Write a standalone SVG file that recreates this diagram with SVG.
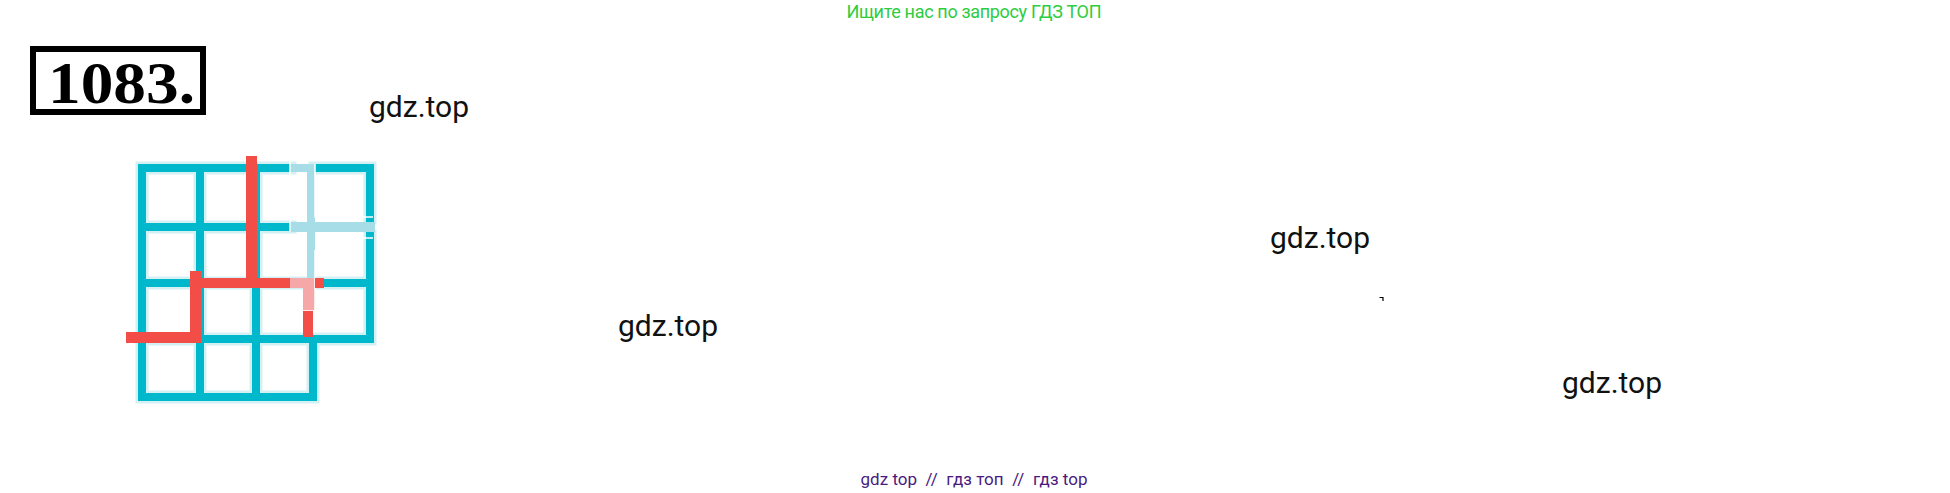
<svg xmlns="http://www.w3.org/2000/svg" width="1950" height="493" viewBox="0 0 1950 493">
<style>
.wm{font-family:Roboto,"Liberation Sans",sans-serif;font-size:30px;fill:#111}
.g{stroke:#00b8cc;stroke-width:8;stroke-linecap:square;fill:none}
.halo{stroke:#d3f0f4;stroke-width:13;stroke-linecap:square;fill:none}
.lt{stroke:#a6dde6;stroke-width:8;fill:none}
.r{fill:#f24d47}
.p{fill:#f6a8a8}
.wl{stroke:#fff;stroke-width:1.5;fill:none}
</style>
<rect width="1950" height="493" fill="#fff"/>
<text x="974" y="18" text-anchor="middle" font-family="Roboto,'Liberation Sans',sans-serif" font-size="18" fill="#2ecc40" textLength="255">Ищите нас по запросу ГДЗ ТОП</text>
<g id="title">
<rect x="33" y="49" width="170" height="63" fill="none" stroke="#000" stroke-width="6"/>
<text x="48" y="103" font-family="'Liberation Serif','DejaVu Serif',serif" font-weight="bold" font-size="60" fill="#000" textLength="147" lengthAdjust="spacingAndGlyphs">1083.</text>
</g>
<g id="watermarks">
<text class="wm" x="369" y="117">gdz.top</text>
<text class="wm" x="618" y="336">gdz.top</text>
<text class="wm" x="1270" y="248">gdz.top</text>
<text class="wm" x="1562" y="393">gdz.top</text>
<path d="M1379.5 297.5 H1383 V301" stroke="#000" stroke-width="1.2" fill="none"/>
</g>
<g id="grid">
<path class="halo" d="M142 168 H290 M315 168 H370 M142 227 H290 M142 283 H370 M142 339 H370 M142 397 H313 M142 168 V397 M200 168 V397 M256 168 V397 M313 339 V397 M370 168 V218 M370 236 V339"/>
<path class="g" d="M142 168 H290 M315 168 H370 M142 227 H290 M142 283 H370 M142 339 H370 M142 397 H313 M142 168 V397 M200 168 V397 M256 168 V397 M313 339 V397 M370 168 V218 M370 236 V339"/>
<path class="lt" d="M290 168 H315 M311 164 V283"/>
<rect x="290" y="222" width="85" height="10" fill="#a6dde6"/>
<path class="wl" d="M290 160 V232 M315 164 V217 H373 M315 238 H373"/>
</g>
<g id="path">
<rect class="r" x="246" y="156" width="11" height="132"/>
<rect class="r" x="190" y="278" width="100" height="10"/>
<rect class="p" x="290" y="278" width="25" height="10"/>
<rect class="p" x="303" y="283" width="12" height="28"/>
<path class="wl" d="M315 250 V311 H303"/>
<rect class="r" x="315" y="278" width="9" height="10"/>
<rect class="r" x="303" y="311" width="10" height="26"/>
<rect class="r" x="190" y="271" width="11" height="72"/>
<rect class="r" x="126" y="332" width="75" height="11"/>
</g>
<text x="974" y="485" text-anchor="middle" font-family="Roboto,'Liberation Sans',sans-serif" font-size="17" fill="#4a1a80" textLength="227" style="white-space:pre" xml:space="preserve">gdz top  //  гдз топ  //  гдз top</text>
</svg>
